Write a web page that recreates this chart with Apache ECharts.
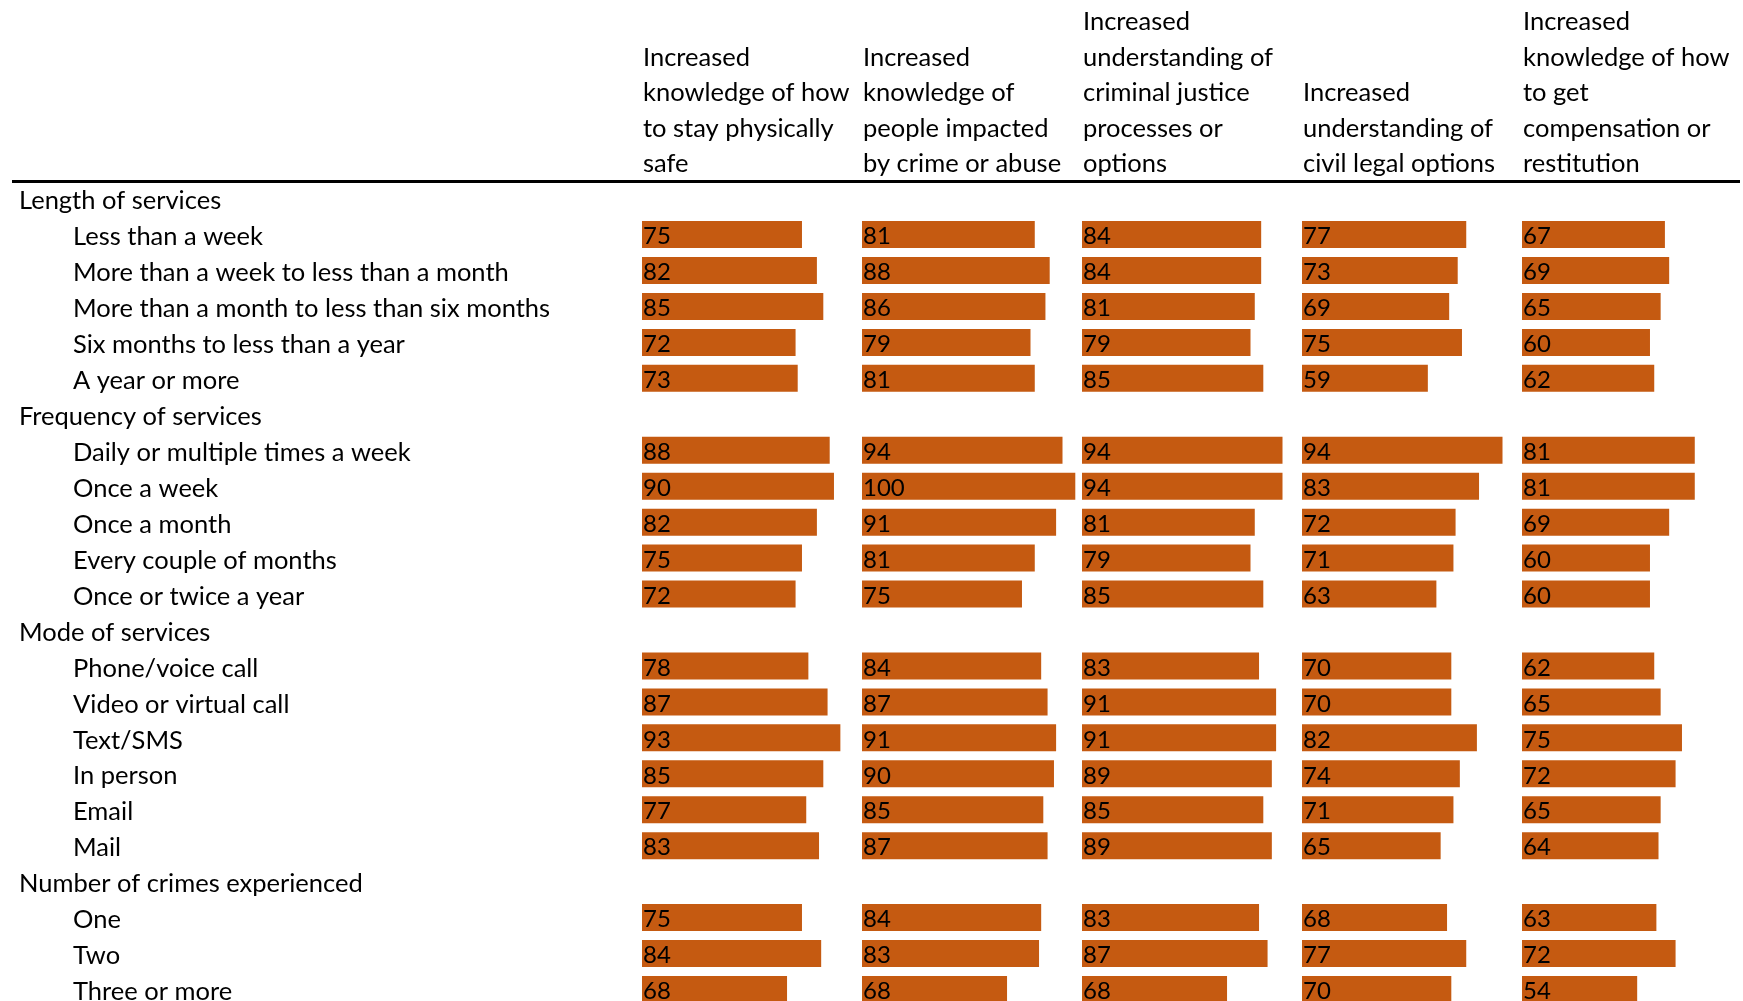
<!DOCTYPE html>
<html>
<head>
<meta charset="utf-8">
<script src="https://cdn.jsdelivr.net/npm/echarts@6/dist/echarts.min.js"></script>
<style>
  html, body { margin: 0; padding: 0; background: #fff; }
  #chart { width: 1743px; height: 1001px; }
</style>
</head>
<body>
<div id="chart"></div>
<script>
// Outcome columns (header text, line-wrapped as printed)
const columnTitles = [
  'Increased\nknowledge of how\nto stay physically\nsafe',
  'Increased\nknowledge of\npeople impacted\nby crime or abuse',
  'Increased\nunderstanding of\ncriminal justice\nprocesses or\noptions',
  'Increased\nunderstanding of\ncivil legal options',
  'Increased\nknowledge of how\nto get\ncompensation or\nrestitution'
];

// Row groups and their items
const groupNames = ['Length of services', 'Frequency of services', 'Mode of services', 'Number of crimes experienced'];
const lengthItems = ['Less than a week', 'More than a week to less than a month', 'More than a month to less than six months', 'Six months to less than a year', 'A year or more'];
const frequencyItems = ['Daily or multiple times a week', 'Once a week', 'Once a month', 'Every couple of months', 'Once or twice a year'];
const modeItems = ['Phone/voice call', 'Video or virtual call', 'Text/SMS', 'In person', 'Email', 'Mail'];
const crimesItems = ['One', 'Two', 'Three or more'];

// Percentages per column, in item order (length, frequency, mode, crimes)
const physicallySafe   = [75, 82, 85, 72, 73,  88, 90, 82, 75, 72,  78, 87, 93, 85, 77, 83,  75, 84, 68];
const peopleImpacted   = [81, 88, 86, 79, 81,  94, 100, 91, 81, 75, 84, 87, 91, 90, 85, 87,  84, 83, 68];
const criminalJustice  = [84, 84, 81, 79, 85,  94, 94, 81, 79, 85,  83, 91, 91, 89, 85, 89,  83, 87, 68];
const civilLegal       = [77, 73, 69, 75, 59,  94, 83, 72, 71, 63,  70, 70, 82, 74, 71, 65,  68, 77, 70];
const compensation     = [67, 69, 65, 60, 62,  81, 81, 69, 60, 60,  62, 65, 75, 72, 65, 64,  63, 72, 54];

const FONT = 'Lato';
const TEXT_SIZE = 25.5;
const BAR_COLOR = '#C55A11';

// Build the row list: a group heading row followed by its items
const itemGroups = [lengthItems, frequencyItems, modeItems, crimesItems];
const rows = [];
const headingRows = new Set();
itemGroups.forEach((items, g) => {
  headingRows.add(rows.length);
  rows.push(groupNames[g]);
  items.forEach(it => rows.push(it));
});

// Spread a column's values over the rows, leaving heading rows empty
function toRowData(values) {
  const out = [];
  let k = 0;
  rows.forEach((r, idx) => {
    if (headingRows.has(idx)) out.push('-');
    else out.push(values[k++]);
  });
  return out;
}

const columns = [physicallySafe, peopleImpacted, criminalJustice, civilLegal, compensation];
const colLeft = [642, 862, 1082, 1302, 1522];
const ROW_H = 35.95;
const TOP = 180.6;

const grids = [], xAxes = [], yAxes = [], series = [], titles = [];
columns.forEach((vals, i) => {
  // the table runs past the bottom edge, so the grid must not be squeezed to fit
  grids.push({
    left: colLeft[i], top: TOP, width: 213.3, height: ROW_H * rows.length,
    outerBoundsMode: 'none', containLabel: false
  });
  xAxes.push({ gridIndex: i, type: 'value', min: 0, max: 100, show: false });
  yAxes.push({
    gridIndex: i,
    type: 'category',
    inverse: true,
    data: rows,
    axisLine: { show: false },
    axisTick: { show: false },
    splitLine: { show: false },
    axisLabel: i === 0 ? {
      show: true,
      align: 'left',
      margin: colLeft[0] - 19,
      interval: 0,
      formatter: (v, idx) => headingRows.has(idx) ? '{g|' + v + '}' : '{i|' + v + '}',
      rich: {
        g: { fontFamily: FONT, fontSize: TEXT_SIZE, color: '#000', padding: [5, 0, 0, 0] },
        i: { fontFamily: FONT, fontSize: TEXT_SIZE, color: '#000', padding: [5, 0, 0, 54] }
      }
    } : { show: false }
  });
  series.push({
    type: 'bar',
    xAxisIndex: i,
    yAxisIndex: i,
    data: toRowData(vals),
    barWidth: 27,
    itemStyle: { color: BAR_COLOR },
    label: {
      show: true,
      position: 'insideLeft',
      distance: 1,
      offset: [0, 2],
      color: '#000',
      fontFamily: FONT,
      fontSize: 24,
      formatter: p => p.value
    },
    silent: true,
    animation: false
  });
  titles.push({
    text: columnTitles[i],
    left: colLeft[i] + 1,
    bottom: 1001 - 182,
    padding: 0,
    textStyle: { fontFamily: FONT, fontSize: TEXT_SIZE, fontWeight: 'normal', color: '#000', lineHeight: 35.6 }
  });
});

const chart = echarts.init(document.getElementById('chart'), null, { renderer: 'canvas' });
chart.setOption({
  backgroundColor: '#fff',
  animation: false,
  title: titles,
  grid: grids,
  xAxis: xAxes,
  yAxis: yAxes,
  series: series,
  graphic: [{
    type: 'line',
    shape: { x1: 12, y1: 181.5, x2: 1740, y2: 181.5 },
    style: { stroke: '#000', lineWidth: 3 }
  }]
});
</script>
</body>
</html>
